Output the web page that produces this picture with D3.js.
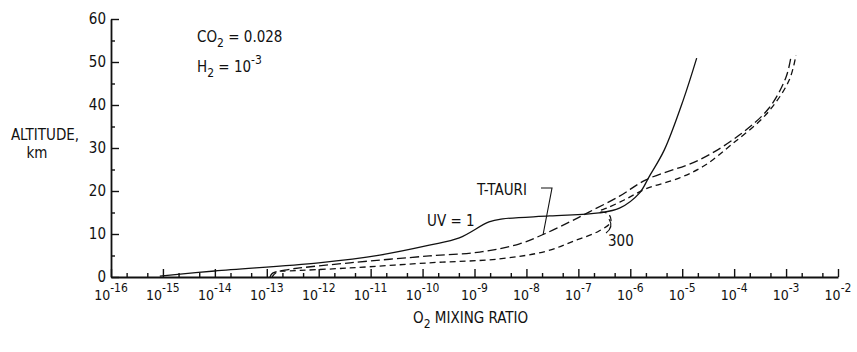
<!DOCTYPE html>
<html>
<head>
<meta charset="utf-8">
<style>
  body { margin: 0; background: #fff; }
  text { font-family: "Liberation Sans Narrow", "DejaVu Sans Condensed", "Roboto Condensed", "Liberation Sans", sans-serif; fill: #111; }
</style>
<script src="https://cdn.jsdelivr.net/npm/d3@7"></script>
</head>
<body>
<div id="chart"></div>
<script>

// O2 mixing ratio (x) vs altitude in km (y)
var uv1Ratio = [8.7e-16, 9.9e-15, 1.0e-12, 1.5e-11, 1.35e-10, 5.1e-10, 1.9e-9, 3.5e-9, 2.8e-8, 2.5e-7, 6.2e-7, 1.5e-6, 2.3e-6, 4.5e-6, 1.05e-5, 1.9e-5];
var uv1Alt   = [0.2, 1.4, 3.3, 5.1, 7.4, 9.1, 12.8, 13.5, 14.2, 14.9, 16.0, 19.5, 23.3, 29.5, 41.2, 50.9];

var tTauriRatio = [1.15e-13, 1.3e-13, 2.2e-13, 4.3e-13, 4.0e-12, 1.35e-10, 1.26e-9, 7.4e-9, 2.2e-8, 6.8e-8, 1.6e-7, 6.2e-7, 2.0e-6, 2.1e-5, 1.26e-4, 4.7e-4, 1.0e-3, 1.26e-3];
var tTauriAlt   = [0, 0.9, 1.6, 2.1, 3.3, 4.9, 5.8, 7.7, 10.0, 12.8, 15.1, 18.8, 22.6, 27.2, 33.0, 39.3, 46.5, 51.6];

var uv300Ratio = [1.26e-13, 1.6e-13, 2.75e-13, 4.0e-12, 1.35e-10, 3.0e-9, 2.4e-8, 8.3e-8, 2.5e-7, 4.2e-7, 3.8e-7, 2.5e-7, 3.5e-7, 7.6e-7, 2.0e-6, 8.7e-6, 2.6e-5, 9.1e-5, 4.2e-4, 1.15e-3, 1.55e-3];
var uv300Alt   = [0, 1.2, 1.4, 2.1, 3.3, 4.2, 6.0, 8.4, 10.7, 12.8, 14.7, 15.3, 16.0, 17.9, 20.5, 23.0, 25.8, 30.9, 37.9, 45.8, 51.6];

var xExponents = [-16, -15, -14, -13, -12, -11, -10, -9, -8, -7, -6, -5, -4, -3, -2];
var yMajor = [0, 10, 20, 30, 40, 50, 60];
var yMinor = [5, 15, 25, 35, 45, 55];
var minorMantissa = [2, 5];

var W = 857, H = 352;

var svg = d3.select("#chart").append("svg")
    .attr("width", W)
    .attr("height", H);

var x = d3.scaleLog()
    .domain([1e-16, 1e-2])
    .range([111, 838]);

var y = d3.scaleLinear()
    .domain([0, 60])
    .range([277, 19]);

// x axis: ticks point up into the plot
var xMinor = [];
xExponents.slice(0, -1).forEach(function(e) {
    minorMantissa.forEach(function(m) { xMinor.push(m * Math.pow(10, e)); });
});

svg.append("g")
    .attr("transform", "translate(0," + y(0) + ")")
    .call(d3.axisBottom(x).tickValues(xMinor).tickSizeInner(-4).tickSizeOuter(0).tickFormat(""))
    .call(g => g.select(".domain").remove());

svg.append("g")
    .attr("transform", "translate(0," + y(0) + ")")
    .call(d3.axisBottom(x).tickValues(xExponents.map(e => Math.pow(10, e))).tickSizeInner(-8).tickSizeOuter(0).tickFormat(""));

var xLab = svg.append("g");
xExponents.forEach(function(e) {
    var t = xLab.append("text")
        .attr("x", x(Math.pow(10, e)))
        .attr("y", 300)
        .attr("text-anchor", "middle")
        .style("font-size", "14px");
    t.append("tspan").text("10");
    t.append("tspan").attr("dy", -8).style("font-size", "12px").text("-" + Math.abs(e));
});

// y axis: ticks point right into the plot
svg.append("g")
    .attr("transform", "translate(" + x(1e-16) + ",0)")
    .call(d3.axisLeft(y).tickValues(yMinor).tickSizeInner(-4).tickSizeOuter(0).tickFormat(""))
    .call(g => g.select(".domain").remove());

svg.append("g")
    .attr("transform", "translate(" + x(1e-16) + ",0)")
    .call(d3.axisLeft(y).tickValues(yMajor).tickSizeInner(-8).tickSizeOuter(0).tickPadding(5))
    .call(g => g.selectAll("text").style("font-size", "15px"));

svg.selectAll(".domain, .tick line")
    .attr("stroke", "#111")
    .attr("stroke-width", 1.4);
svg.selectAll(".domain").attr("stroke-width", 1.8);

// curves
var line = d3.line()
    .curve(d3.curveCatmullRom)
    .x(d => x(d[0]))
    .y(d => y(d[1]));

var series = [
    { r: uv1Ratio, a: uv1Alt, dash: null },
    { r: tTauriRatio, a: tTauriAlt, dash: "9,4" },
    { r: uv300Ratio, a: uv300Alt, dash: "6,4" }
];

series.forEach(function(s) {
    svg.append("path")
        .datum(d3.zip(s.r, s.a))
        .attr("fill", "none")
        .attr("stroke", "#111")
        .attr("stroke-width", 1.3)
        .attr("stroke-dasharray", s.dash)
        .attr("d", line);
});

// curve labels and pointers
svg.append("text").attr("x", 427).attr("y", 226).style("font-size", "15px").text("UV = 1");
svg.append("text").attr("x", 477).attr("y", 195).style("font-size", "15px").text("T-TAURI");
svg.append("path")
    .attr("d", "M541,188 L552,188 L543,235")
    .attr("fill", "none").attr("stroke", "#111").attr("stroke-width", 1.1);
svg.append("text").attr("x", 608).attr("y", 246).style("font-size", "15px").text("300");
svg.append("path")
    .attr("d", "M606,233 Q614,227 609,219")
    .attr("fill", "none").attr("stroke", "#111").attr("stroke-width", 1.1);

// conditions
var c1 = svg.append("text").attr("x", 197).attr("y", 42).style("font-size", "15px");
c1.append("tspan").text("CO");
c1.append("tspan").attr("dy", 5).style("font-size", "12px").text("2");
c1.append("tspan").attr("dy", -5).text(" = 0.028");

var c2 = svg.append("text").attr("x", 197).attr("y", 72).style("font-size", "15px");
c2.append("tspan").text("H");
c2.append("tspan").attr("dy", 5).style("font-size", "12px").text("2");
c2.append("tspan").attr("dy", -5).text(" = 10");
c2.append("tspan").attr("dy", -8).style("font-size", "12px").text("-3");

// axis titles
svg.append("text").attr("x", 45).attr("y", 140).attr("text-anchor", "middle").style("font-size", "15px").text("ALTITUDE,");
svg.append("text").attr("x", 37).attr("y", 158).attr("text-anchor", "middle").style("font-size", "15px").text("km");

var xt = svg.append("text").attr("x", 413).attr("y", 323).style("font-size", "15px");
xt.append("tspan").text("O");
xt.append("tspan").attr("dy", 5).style("font-size", "12px").text("2");
xt.append("tspan").attr("dy", -5).text(" MIXING RATIO");

</script>
</body>
</html>
